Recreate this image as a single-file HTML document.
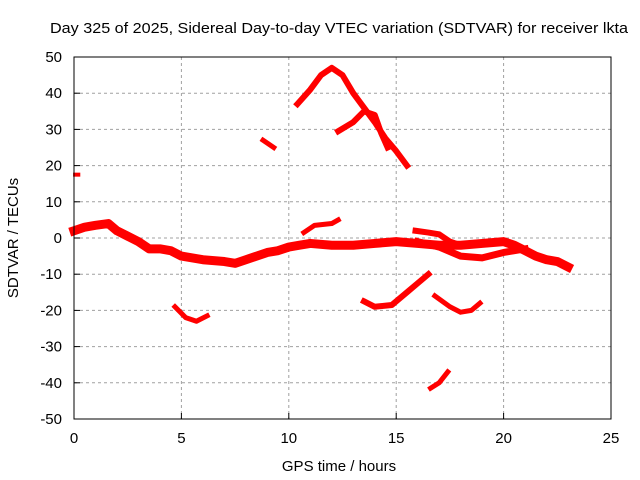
<!DOCTYPE html>
<html><head><meta charset="utf-8"><style>
body{margin:0;background:#fff}
svg{display:block;font-family:"Liberation Sans",sans-serif}
</style></head><body>
<svg id="chart" width="640" height="480">
<text x="50" y="33" font-size="15" textLength="578" lengthAdjust="spacingAndGlyphs">Day 325 of 2025, Sidereal Day-to-day VTEC variation (SDTVAR) for receiver lkta</text>
<text x="339" y="471" font-size="15" text-anchor="middle">GPS time / hours</text>
<text transform="translate(18,238) rotate(-90)" font-size="15" text-anchor="middle">SDTVAR / TECUs</text>
<g id="grid"></g><g id="marks"></g><g id="axes"></g>
</svg>
<script>
const xTicks=[0,5,10,15,20,25];
const yTicks=[-50,-40,-30,-20,-10,0,10,20,30,40,50];
const mainBand=[[0,2],[0.5,3],[1,3.5],[1.6,4],[2,2],[2.5,0.5],[3,-1],[3.5,-3],[4,-3],[4.5,-3.5],[5,-5],[6,-6],[7,-6.5],[7.5,-7],[8,-6],[8.5,-5],[9,-4],[9.5,-3.5],[10,-2.5],[10.5,-2],[11,-1.5],[12,-2],[13,-2],[14,-1.5],[15,-1],[16,-1.5],[17,-2],[18,-2],[19,-1.5],[20,-1],[20.5,-2],[21,-3.5],[21.5,-5],[22,-6],[22.5,-6.5],[23,-8]];
const lowerBranch=[[16,-1],[17,-2.5],[18,-5],[19,-5.5],[20,-4],[21,-3]];
const upperBranch=[[15.9,2],[16.5,1.5],[17,1],[17.5,-1],[18,-2],[19,-1.5]];
const riseArc=[[10.7,1.5],[11.2,3.5],[12,4],[12.3,5]];
const dotTrack=[[0.05,17.5],[0.2,17.5]];
const shortTrack=[[8.8,27],[9.3,25]];
const bigArc=[[10.4,37],[11,41],[11.5,45],[12,47],[12.5,45],[13,40],[13.5,36],[14,32],[14.5,27.5],[15,24],[15.5,20]];
const secondArc=[[12.3,29.5],[13,32],[13.5,35],[14,34],[14.3,29],[14.6,25]];
const dipA=[[4.7,-19],[5.2,-22],[5.7,-23],[6.2,-21.5]];
const dipB=[[13.5,-17.5],[14,-19],[14.8,-18.5],[15.5,-15],[16,-12.5],[16.5,-10]];
const dipC=[[16.8,-16],[17.5,-19],[18,-20.5],[18.5,-20],[18.9,-18]];
const lowTrack=[[16.6,-41.5],[17,-40],[17.4,-37]];
const tracks=[[mainBand,9,'main-band'],[lowerBranch,7,'lower-branch'],[upperBranch,6,'upper-branch'],[riseArc,5,'rise-arc'],[dotTrack,4,'early-track'],[shortTrack,5,'short-track'],[bigArc,6,'big-arc'],[secondArc,6,'second-arc'],[dipA,5,'dip-a'],[dipB,6,'dip-b'],[dipC,5,'dip-c'],[lowTrack,5,'low-track']];
const X0=74,X1=611,Y0=419,Y1=57;
const xs=h=>X0+(h-0)/25*(X1-X0);
const ys=v=>Y0-(v+50)/100*(Y0-Y1);
const NS='http://www.w3.org/2000/svg';
function mk(t,a,p){const e=document.createElementNS(NS,t);for(const k in a)e.setAttribute(k,a[k]);p.appendChild(e);return e;}
const grid=document.getElementById('grid'),axes=document.getElementById('axes'),marks=document.getElementById('marks');
xTicks.forEach(t=>{
 if(t>0&&t<25){const l=mk('line',{x1:xs(t),x2:xs(t),y1:Y1,y2:Y0,stroke:'#a0a0a0','stroke-dasharray':'3,3'},grid);
 }
 const tk=mk('line',{x1:xs(t),x2:xs(t),y1:Y0,y2:Y0-6,stroke:'#000'},axes);
 
 const tx=mk('text',{x:xs(t),y:Y0+24,'font-size':15,'text-anchor':'middle'},axes);tx.textContent=t;
 
});
yTicks.forEach(t=>{
 if(t>-50&&t<50){const l=mk('line',{x1:X0,x2:X1,y1:ys(t),y2:ys(t),stroke:'#a0a0a0','stroke-dasharray':'3,3'},grid);
 }
 const tk=mk('line',{x1:X0,x2:X0+6,y1:ys(t),y2:ys(t),stroke:'#000'},axes);
 
 const tx=mk('text',{x:X0-12,y:ys(t)+5,'font-size':15,'text-anchor':'end'},axes);tx.textContent=t;
 
});
const fr=mk('rect',{x:X0,y:Y1,width:X1-X0,height:Y0-Y1,fill:'none',stroke:'#000'},axes);

tracks.forEach(([pts,w,nm])=>{
 const p=mk('polyline',{points:pts.map(d=>xs(d[0])+','+ys(d[1])).join(' '),fill:'none',stroke:'#ff0000','stroke-width':w,'stroke-linejoin':'round','stroke-linecap':'square'},marks);
 
});
</script>
</body></html>
